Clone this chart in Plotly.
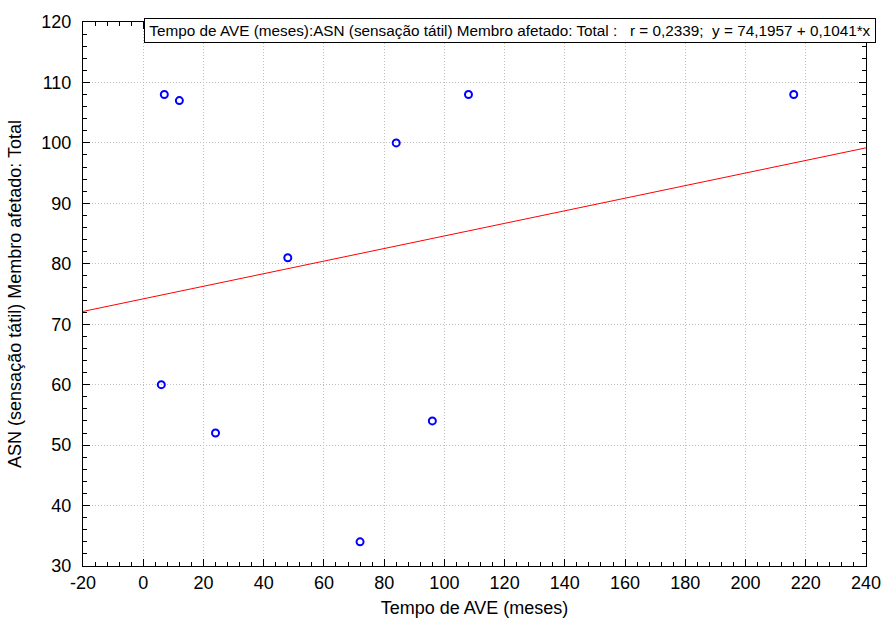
import plotly.graph_objects as go

# Data
tempo_ave = [7, 12, 6, 24, 48, 72, 84, 96, 108, 216]
asn_total = [108, 107, 60, 52, 81, 34, 100, 54, 108, 108]

# Regression as printed in the chart
intercept = 74.1957
slope = 0.1041
line_x = [-20, 240]
line_y = [intercept + slope * v for v in line_x]

x_ticks = list(range(-20, 241, 20))
x_tick_text = [str(v) for v in x_ticks]
y_ticks = list(range(30, 121, 10))
y_tick_text = [str(v) for v in y_ticks]

label = "Tempo de AVE (meses):ASN (sensação tátil) Membro afetado: Total :   r = 0,2339;  y = 74,1957 + 0,1041*x"

font_family = "Liberation Sans, Arial, sans-serif"

fig = go.Figure()
fig.add_trace(go.Scatter(
    x=line_x, y=line_y, mode="lines",
    line=dict(color="#ff0000", width=1), showlegend=False, hoverinfo="skip"))
fig.add_trace(go.Scatter(
    x=tempo_ave, y=asn_total, mode="markers",
    marker=dict(symbol="circle-open", size=7, color="#0000ff", line=dict(width=2, color="#0000ff")),
    showlegend=False))

axis_common = dict(
    showline=True, linecolor="black", linewidth=1, mirror="allticks",
    ticks="inside", ticklen=7, tickcolor="black", tickwidth=1,
    showgrid=True, gridcolor="#c0c0c0", griddash="1px,2px", gridwidth=1,
    zeroline=False, automargin=False, ticklabeloverflow="allow",
    tickfont=dict(family=font_family, size=18, color="black"),
)

fig.update_xaxes(
    range=[-20, 240], tickvals=x_ticks, ticktext=x_tick_text,
    minor=dict(dtick=4, ticks="inside", ticklen=4, tickcolor="black", showgrid=False),
    title=dict(text="Tempo de AVE (meses)", font=dict(family=font_family, size=18, color="black"), standoff=9),
    **axis_common)
fig.update_yaxes(
    range=[30, 120], tickvals=y_ticks, ticktext=y_tick_text, ticklabelstandoff=7,
    minor=dict(dtick=2, ticks="inside", ticklen=4, tickcolor="black", showgrid=False),
    title=dict(text="ASN (sensação tátil) Membro afetado: Total", font=dict(family=font_family, size=18, color="black")),
    **axis_common)

fig.add_annotation(
    xref="paper", yref="paper", x=1.0128, y=0.9838, xanchor="right", yanchor="middle",
    text=label, showarrow=False,
    font=dict(family=font_family, size=15.3, color="black"),
    bordercolor="black", borderwidth=1, borderpad=3, bgcolor="white",
    width=724, align="center")

fig.update_layout(
    width=883, height=628,
    margin=dict(l=83, r=17, t=22, b=62),
    paper_bgcolor="white", plot_bgcolor="white",
    font=dict(family=font_family),
)

# Remove the default page margin so the figure fills the window exactly
fig.write_html(
    "out.html",
    config={"displayModeBar": False},
    post_script="document.body.style.margin='0';document.body.style.overflow='hidden';",
)
